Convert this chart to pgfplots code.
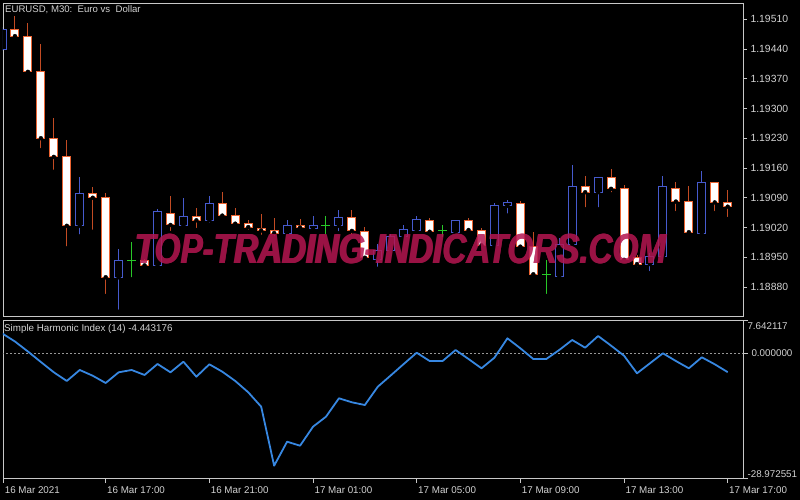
\documentclass[border=0pt]{standalone}
\usepackage{fontspec}
\setmainfont{Liberation Sans}
\usepackage{pgfplots}
\usepackage{pgfplotstable}
\pgfplotsset{compat=1.18}

\definecolor{labelgray}{RGB}{210,210,210}
\definecolor{axisgray}{RGB}{200,200,200}
\definecolor{zerogray}{RGB}{150,150,150}
\definecolor{bearline}{RGB}{235,100,50}
\definecolor{bearwick}{RGB}{195,75,35}
\definecolor{bullblue}{RGB}{70,90,205}
\definecolor{dojigreen}{RGB}{40,200,40}
\definecolor{shiblue}{RGB}{55,135,225}
\definecolor{wm}{RGB}{180,22,80}

% EURUSD M30 candles: k = bar index (0 = 16 Mar 13:00)
\pgfplotstableread{
k o h l c
1 1.19486 1.19517 1.19465 1.19470
2 1.19470 1.19500 1.19378 1.19386
3 1.19386 1.19451 1.19202 1.19230
4 1.19230 1.19277 1.19151 1.19186
5 1.19186 1.19227 1.18971 1.19024
7 1.19099 1.19115 1.19010 1.19090
8 1.19090 1.19102 1.18859 1.18903
11 1.18942 1.18946 1.18927 1.18931
13 1.19054 1.19095 1.19007 1.19026
15 1.19045 1.19067 1.19014 1.19037
17 1.19077 1.19103 1.19047 1.19048
18 1.19049 1.19067 1.19021 1.19029
19 1.19029 1.19038 1.19010 1.19021
20 1.19017 1.19051 1.18998 1.19013
21 1.19014 1.19043 1.18995 1.19007
23 1.19024 1.19040 1.19012 1.19020
27 1.19043 1.19061 1.18999 1.19012
28 1.19010 1.19021 1.18942 1.18949
33 1.19036 1.19042 1.19000 1.19010
36 1.19036 1.19042 1.19007 1.19014
37 1.19014 1.19020 1.18971 1.18978
40 1.19077 1.19082 1.18973 1.18975
41 1.18975 1.19010 1.18905 1.18910
45 1.19116 1.19141 1.19063 1.19103
47 1.19138 1.19157 1.19098 1.19111
48 1.19111 1.19120 1.18940 1.18944
49 1.18950 1.18956 1.18924 1.18934
52 1.19112 1.19126 1.19054 1.19081
53 1.19081 1.19118 1.19004 1.19009
55 1.19126 1.19127 1.19054 1.19079
56 1.19079 1.19108 1.19040 1.19069
}\bear

\pgfplotstableread{
k o h l c
0 1.19439 1.19491 1.19435 1.19486
6 1.19024 1.19138 1.18999 1.19101
9 1.18903 1.18969 1.18822 1.18942
12 1.18930 1.19063 1.18924 1.19057
14 1.19024 1.19090 1.19022 1.19046
16 1.19037 1.19093 1.19026 1.19077
22 1.19007 1.19038 1.19006 1.19024
24 1.19017 1.19046 1.19012 1.19024
26 1.19024 1.19061 1.19007 1.19043
29 1.18946 1.18981 1.18923 1.18967
30 1.18967 1.19005 1.18960 1.18999
31 1.18999 1.19025 1.18997 1.19016
32 1.19014 1.19046 1.19012 1.19038
35 1.19009 1.19038 1.19007 1.19036
38 1.18978 1.19077 1.18975 1.19071
39 1.19071 1.19085 1.19048 1.19079
43 1.18906 1.18995 1.18901 1.18979
44 1.18979 1.19167 1.18977 1.19116
46 1.19103 1.19140 1.19063 1.19138
50 1.18934 1.18960 1.18913 1.18952
51 1.18952 1.19141 1.18951 1.19116
54 1.19007 1.19154 1.19006 1.19126
}\bull

\pgfplotstableread{
k o h l c
10 1.18943 1.18985 1.18898 1.18943
25 1.19024 1.19048 1.19000 1.19024
34 1.19012 1.19026 1.18993 1.19012
42 1.18910 1.18944 1.18859 1.18910
}\doji

% Simple Harmonic Index (14)
\pgfplotstableread{
k v
0 4.56
1 2.66
2 0.34
3 -2.09
4 -4.48
5 -6.49
6 -3.94
7 -5.27
8 -6.96
9 -4.48
10 -3.94
11 -5.10
12 -2.55
13 -4.48
14 -2.02
15 -5.50
16 -2.62
17 -4.34
18 -6.49
19 -9.11
20 -12.45
21 -26.12
22 -20.56
23 -21.49
24 -17.08
25 -14.77
26 -10.50
27 -11.43
28 -12.06
29 -7.81
30 -5.20
31 -2.55
32 0.06
33 -1.86
34 -1.86
35 0.69
36 -1.40
37 -3.55
38 -1.09
39 3.40
40 1.08
41 -1.40
42 -1.40
43 0.69
44 3.01
45 1.22
46 3.94
47 1.69
48 -0.63
49 -4.71
50 -2.39
51 -0.07
52 -1.86
53 -3.55
54 -1.00
55 -2.62
56 -4.443176
}\shi

\pgfplotsset{
  candle wick/.style={
    only marks, mark=none,
    error bars/.cd, y dir=plus, y explicit, error mark=none,
    error bar style={#1, line width=1pt},
  },
  candle body/.style 2 args={
    only marks, mark=none,
    error bars/.cd, y dir=plus, y explicit, error mark=none,
    draw error bar/.code 2 args={%
      \path ##1 coordinate (cb@a) ##2 coordinate (cb@b);
      \path[draw=#1, fill=#2, line width=1pt]
        ([xshift=-4pt]cb@a) rectangle ([xshift=4pt]cb@b);},
  },
  mt panel/.style={
    anchor=south west, scale only axis, width=740pt,
    xmin=0.077, xmax=57.18,
    axis line style={axisgray, line width=0.8pt},
    tick align=outside, major tick length=4pt,
    tick style={axisgray, line width=0.8pt},
    ticklabel style={font=\fontsize{9.8}{11}\selectfont, text=labelgray},
    /pgf/number format/assume math mode=true,
    ytick pos=right, clip mode=individual,
  },
}

\begin{document}
\begin{tikzpicture}[x=1pt,y=1pt]
\useasboundingbox (0,0) rectangle (800,500);
\fill[black] (0,0) rectangle (800,500);

\begin{axis}[mt panel,
  at={(3pt,184pt)}, height=313pt,
  ymin=1.18812, ymax=1.19548,
  xtick=\empty,
  ytick={1.18880,1.18950,1.19020,1.19090,1.19160,1.19230,1.19300,1.19370,1.19440,1.19510},
  yticklabels={1.18880,1.18950,1.19020,1.19090,1.19160,1.19230,1.19300,1.19370,1.19440,1.19510},
  yticklabel style={font=\fontsize{10.4}{12}\selectfont},
]
\addplot[candle wick=bearwick] table[x=k, y=l, y error expr=\thisrow{h}-\thisrow{l}] {\bear};
\addplot[candle wick=bullblue] table[x=k, y=l, y error expr=\thisrow{h}-\thisrow{l}] {\bull};
\addplot[candle wick=dojigreen] table[x=k, y=l, y error expr=\thisrow{h}-\thisrow{l}] {\doji};
\addplot[candle body={bearline}{white}] table[x=k, y=c, y error expr=\thisrow{o}-\thisrow{c}] {\bear};
\addplot[candle body={bullblue}{black}] table[x=k, y=o, y error expr=\thisrow{c}-\thisrow{o}] {\bull};
\addplot[only marks, mark=-, mark size=4.5pt, dojigreen, mark options={line width=1pt}] table[x=k, y=o] {\doji};
\end{axis}

\begin{axis}[mt panel,
  at={(3pt,22pt)}, height=158pt,
  ymin=-28.972551, ymax=7.642117,
  xtick={0.1,8,16,24,32,40,48,56},
  xticklabels={16 Mar 2021,16 Mar 17:00,16 Mar 21:00,17 Mar 01:00,17 Mar 05:00,17 Mar 09:00,17 Mar 13:00,17 Mar 17:00},
  xtick pos=bottom,
  xticklabel style={anchor=north west, xshift=-2pt},
  major tick length=5pt,
  ytick={-28.972551,0,7.642117},
  yticklabels={,0.000000,},
]
\addplot[zerogray, line width=0.8pt, dash pattern=on 2pt off 2pt] coordinates {(0,0) (58,0)};
\addplot[shiblue, line width=1.8pt, line join=round] table[x=k, y=v] {\shi};
\node[anchor=west, font=\fontsize{9.8}{11}\selectfont, text=labelgray, xshift=1pt, yshift=-6.5pt] at (rel axis cs:1,1) {7.642117};
\node[anchor=west, font=\fontsize{9.8}{11}\selectfont, text=labelgray, xshift=1pt, yshift=4pt] at (rel axis cs:1,0) {-28.972551};
\end{axis}

\node[anchor=west, text=labelgray, font=\fontsize{9.6}{11}\selectfont, inner sep=0pt] at (5,490) {EURUSD, M30:\ \ Euro vs\ \ Dollar};
\node[anchor=west, text=labelgray, font=\fontsize{9.8}{11}\selectfont, inner sep=0pt] at (4,171) {Simple Harmonic Index (14) -4.443176};

% watermark, thickened by overprinting inside one transparency group
\begin{scope}[transparency group, opacity=0.85]
\foreach \dx in {-0.7,0,0.7}
  \node[text=wm, font=\fontsize{42}{42}\selectfont\bfseries\itshape, xscale=0.79, inner sep=0pt] at (401+\dx,251) {TOP-TRADING-INDICATORS.COM};
\end{scope}
\end{tikzpicture}
\end{document}
